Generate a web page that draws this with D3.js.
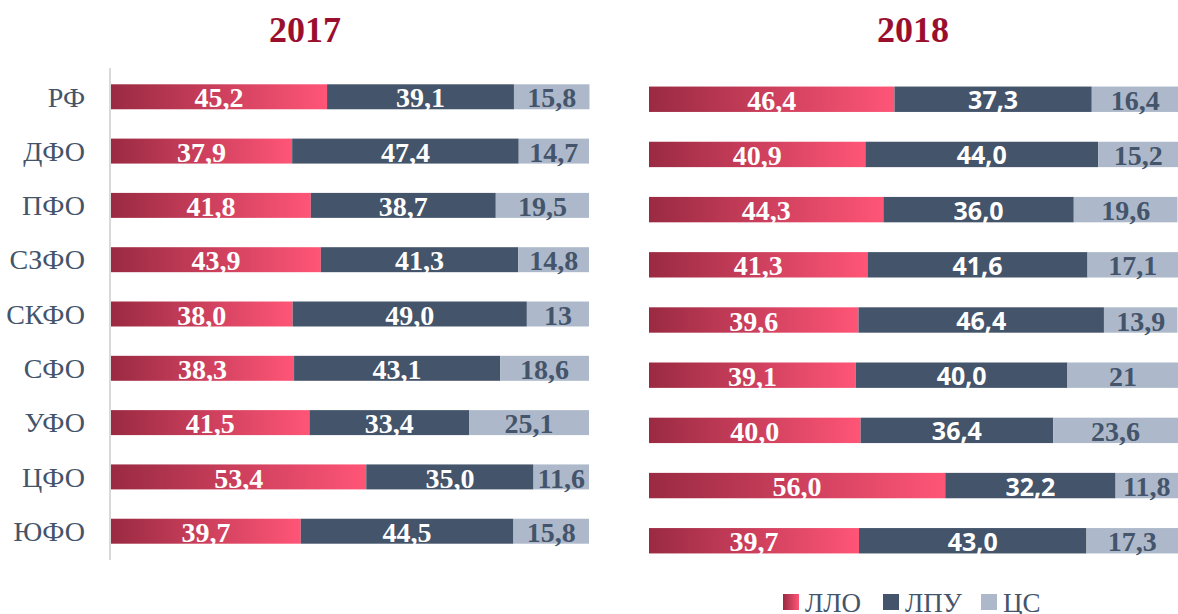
<!DOCTYPE html>
<html>
<head>
<meta charset="utf-8">
<script src="https://cdn.jsdelivr.net/npm/d3@7"></script>
<style>
  body { margin: 0; background: #fff; }
  svg { display: block; }
</style>
</head>
<body>
<div id="d3"></div>
<script>
// data
var regions = ["РФ", "ДФО", "ПФО", "СЗФО", "СКФО", "СФО", "УФО", "ЦФО", "ЮФО"];
var llo2017 = [45.2, 37.9, 41.8, 43.9, 38.0, 38.3, 41.5, 53.4, 39.7];
var lpu2017 = [39.1, 47.4, 38.7, 41.3, 49.0, 43.1, 33.4, 35.0, 44.5];
var cs2017  = [15.8, 14.7, 19.5, 14.8, 13, 18.6, 25.1, 11.6, 15.8];
var llo2018 = [46.4, 40.9, 44.3, 41.3, 39.6, 39.1, 40.0, 56.0, 39.7];
var lpu2018 = [37.3, 44.0, 36.0, 41.6, 46.4, 40.0, 36.4, 32.2, 43.0];
var cs2018  = [16.4, 15.2, 19.6, 17.1, 13.9, 21, 23.6, 11.8, 17.3];
var seriesNames = ["ЛЛО", "ЛПУ", "ЦС"];

var W = 1178, H = 614;
var serif = "'Liberation Serif', 'DejaVu Serif', serif";
var sans = "'Open Sans', 'Noto Sans', sans-serif";
var dark = "#44546a", light = "#adb9ca";

var svg = d3.select("#d3")
  .append("svg")
  .attr("width", W)
  .attr("height", H);

// gradient for ЛЛО
var grad = svg.append("defs").append("linearGradient")
  .attr("id", "redgrad")
  .attr("x1", "0%").attr("x2", "100%").attr("y1", "0%").attr("y2", "0%");
grad.append("stop").attr("offset", "0%").attr("stop-color", "#9a2a42");
grad.append("stop").attr("offset", "100%").attr("stop-color", "#ff5577");

var fmt1 = function(v) { return d3.format(".1f")(v).replace(".", ","); };
var fmtCs = function(v) { return String(v).replace(".", ","); };

function panel(opts) {
  var rows = regions.map(function(r, i) {
    return {region: r, vals: [opts.llo[i], opts.lpu[i], opts.cs[i]]};
  });

  var x = d3.scaleLinear().domain([0, 100]).range([opts.x0, opts.x1]);
  var y = d3.scaleBand().domain(regions)
    .range([opts.yTop, opts.yBot])
    .paddingInner(0.54).paddingOuter(0.3);

  var g = svg.append("g");

  // title
  g.append("text")
    .attr("x", opts.titleX)
    .attr("y", 42)
    .attr("text-anchor", "middle")
    .attr("font-family", serif)
    .attr("font-weight", "bold")
    .attr("font-size", 36)
    .attr("fill", "#9b0f2e")
    .text(opts.title);

  if (opts.showAxis) {
    g.append("line")
      .attr("x1", opts.x0 - 1).attr("x2", opts.x0 - 1)
      .attr("y1", opts.yTop).attr("y2", opts.yBot)
      .attr("stroke", "#d9d9d9").attr("stroke-width", 2);

    g.selectAll(".cat")
      .data(regions)
      .enter().append("text")
      .attr("x", 85)
      .attr("y", function(d) { return y(d) + y.bandwidth() / 2; })
      .attr("dy", "0.35em")
      .attr("text-anchor", "end")
      .attr("font-family", serif)
      .attr("font-size", 28)
      .attr("fill", dark)
      .text(function(d) { return d; });
  }

  var fills = ["url(#redgrad)", dark, light];
  var txtColor = ["#fff", "#fff", dark];

  rows.forEach(function(row) {
    var acc = 0;
    row.vals.forEach(function(v, k) {
      var start = acc;
      acc += v;
      g.append("rect")
        .attr("x", x(start))
        .attr("y", y(row.region))
        .attr("width", x(acc) - x(start))
        .attr("height", y.bandwidth())
        .attr("fill", fills[k]);
      var useSans = opts.sansMid && k === 1;
      g.append("text")
        .attr("x", (x(start) + x(acc)) / 2)
        .attr("y", y(row.region) + y.bandwidth() / 2)
        .attr("dy", useSans ? "0.4em" : "0.38em")
        .attr("text-anchor", "middle")
        .attr("font-family", useSans ? sans : serif)
        .attr("font-weight", "bold")
        .attr("font-size", useSans ? 25 : 28)
        .attr("fill", txtColor[k])
        .text(k === 2 ? fmtCs(v) : fmt1(v));
    });
  });
}

panel({title: "2017", titleX: 305, x0: 111, x1: 589, yTop: 68, yBot: 560,
       llo: llo2017, lpu: lpu2017, cs: cs2017, showAxis: true, sansMid: false});
panel({title: "2018", titleX: 913, x0: 649, x1: 1178, yTop: 70, yBot: 570,
       llo: llo2018, lpu: lpu2018, cs: cs2018, showAxis: false, sansMid: true});

// legend
var legend = svg.append("g").attr("transform", "translate(783,593)");
var legX = [0, 100, 198];
var legFill = ["url(#redgrad)", dark, light];
seriesNames.forEach(function(s, i) {
  legend.append("rect")
    .attr("x", legX[i]).attr("y", 1)
    .attr("width", 16).attr("height", 16)
    .attr("fill", legFill[i]);
  legend.append("text")
    .attr("x", legX[i] + 22).attr("y", 19)
    .attr("font-family", serif)
    .attr("font-size", 27)
    .attr("fill", dark)
    .text(s);
});
</script>
</body>
</html>
